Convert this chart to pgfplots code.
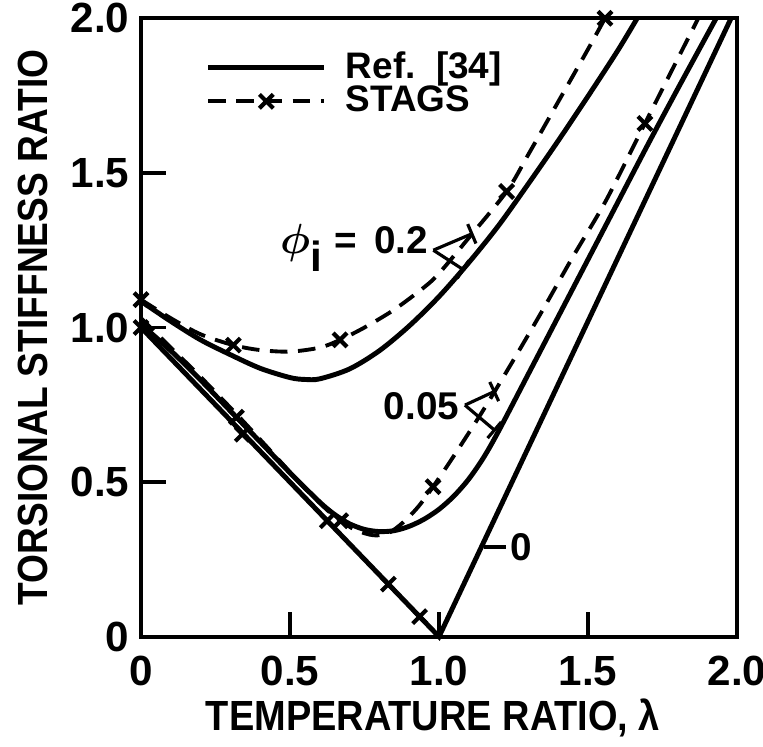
\documentclass[border=0pt]{standalone}
\usepackage{pgfplots}
\pgfplotsset{compat=1.18}
\usetikzlibrary{arrows.meta}
\usepackage{fontspec}
\setmainfont{Liberation Sans}

% Ref. [34] curves
\pgfplotstableread{
x     y
0     1.085
0.1   1.02
0.2   0.96
0.3   0.912
0.4   0.868
0.5   0.838
0.55  0.832
0.6   0.834
0.7   0.866
0.8   0.925
0.9   1.005
1.0   1.10
1.1   1.21
1.2   1.33
1.3   1.465
1.4   1.604
1.5   1.748
1.6   1.896
1.665 2.0
}\refa
\pgfplotstableread{
x     y
0     1.01
0.1   0.925
0.2   0.83
0.3   0.73
0.4   0.63
0.5   0.53
0.6   0.435
0.65  0.395
0.7   0.365
0.75  0.347
0.8   0.34
0.85  0.343
0.9   0.357
0.95  0.38
1.0   0.412
1.05  0.455
1.1   0.51
1.15  0.58
1.2   0.665
1.3   0.85
1.4   1.035
1.5   1.22
1.6   1.405
1.7   1.59
1.8   1.77
1.93  2.0
}\refb
% STAGS curves
\pgfplotstableread{
x     y
0     1.09
0.1   1.03
0.2   0.978
0.31  0.943
0.4   0.927
0.5   0.922
0.6   0.935
0.668 0.96
0.75  1.0
0.85  1.058
0.95  1.13
1.0   1.175
1.1   1.29
1.227 1.44
1.3   1.56
1.4   1.73
1.5   1.90
1.557 2.0
}\stagsa
\pgfplotstableread{
x     y
0     1.03
0.1   0.935
0.2   0.84
0.33  0.71
0.45  0.585
0.55  0.48
0.63  0.405
0.67  0.375
0.72  0.345
0.78  0.328
0.83  0.335
0.88  0.37
0.93  0.42
0.98  0.485
1.05  0.585
1.15  0.735
1.25  0.895
1.35  1.06
1.45  1.23
1.56  1.41
1.691 1.66
1.87  2.0
}\stagsb

\begin{document}
\bfseries\fontsize{11}{13}\selectfont
\begin{tikzpicture}
\begin{axis}[
    scale only axis,
    width=5.96cm, height=6.184cm,
    xmin=0, xmax=2, ymin=0, ymax=2,
    clip=false,
    axis line style={line width=1.1pt},
    tick align=inside, tick pos=left,
    major tick length=0.25cm,
    tick style={line width=1pt, black},
    tick label style={font=\bfseries\fontsize{12}{14}\selectfont},
    xtick={0,0.5,1,1.5,2}, xticklabels={0,0.5,1.0,1.5,2.0},
    ytick={0,0.5,1,1.5,2}, yticklabels={0,0.5,1.0,1.5,2.0},
    xticklabel style={yshift=-0.06cm},
    yticklabel style={xshift=0.02cm},
    xlabel={\scalebox{0.9}[1]{TEMPERATURE RATIO, λ}},
    ylabel={\scalebox{0.88}[1]{TORSIONAL STIFFNESS RATIO}},
    every axis x label/.style={at={(axis description cs:0.49,0)}, anchor=center, yshift=-0.81cm,
        font=\bfseries\fontsize{12}{14}\selectfont},
    every axis y label/.style={at={(axis description cs:0,0.5)}, anchor=center, xshift=-1.08cm, rotate=90,
        font=\bfseries\fontsize{12}{14}\selectfont},
    legend style={draw=none, fill=none, at={(axis description cs:0.09,0.97)}, anchor=north west,
        cells={anchor=west}, row sep=-3.6pt, font=\bfseries\fontsize{10.5}{12}\selectfont},
    legend image code/.code={\draw[mark repeat=2,mark phase=2,#1] plot coordinates {(0cm,0cm) (0.58cm,0cm) (1.16cm,0cm)};},
    refline/.style={black, line width=1.4pt, smooth},
    stagsline/.style={black, line width=1.1pt, dash pattern=on 5pt off 3pt, smooth},
    stagsmark/.style={black, only marks, mark=x, mark size=2.8pt, mark options={solid, line width=1.2pt}},
]
\addlegendimage{black, line width=1.4pt}
\addlegendentry{\hspace{0.12cm}Ref.\ \ [34]}
\addlegendimage{black, line width=1.1pt, dash pattern=on 5pt off 3pt, mark=x, mark size=2.8pt, mark options={solid, line width=1.2pt}}
\addlegendentry{\hspace{0.12cm}STAGS}

% phi_i = 0
\addplot[black, line width=1.4pt, forget plot] coordinates {(0,1.0) (1.0,0) (1.98,2.0)};
\addplot[stagsmark, forget plot] coordinates {(0,1.0) (0.34,0.655) (0.625,0.375) (0.83,0.17) (0.935,0.065)};
% phi_i = 0.05
\addplot[refline, forget plot] table {\refb};
\addplot[stagsline, forget plot] table {\stagsb};
\addplot[stagsmark, forget plot] coordinates {(0.32,0.71) (0.67,0.375) (0.98,0.485) (1.691,1.66)};
% phi_i = 0.2
\addplot[refline, forget plot] table {\refa};
\addplot[stagsline, forget plot] table {\stagsa};
\addplot[stagsmark, forget plot] coordinates {(0,1.09) (0.31,0.943) (0.668,0.96) (1.227,1.44) (1.557,2.0)};

% curve labels
\node[anchor=east, inner sep=0pt] at (axis cs:0.965,1.258) {{\fontsize{13}{13}\selectfont\boldmath$\phi$}\textsubscript{\fontsize{12}{12}\selectfont i}\ = \,0.2};
\draw[line width=0.9pt, -{Bar[width=6pt]}] (axis cs:0.981,1.25) -- (axis cs:1.115,1.305);
\draw[line width=0.9pt, -{Bar[width=6pt]}] (axis cs:0.981,1.25) -- (axis cs:1.085,1.185);
\node[anchor=east, inner sep=0pt] at (axis cs:1.07,0.746) {0.05};
\draw[line width=0.9pt, -{Bar[width=6pt]}] (axis cs:1.087,0.749) -- (axis cs:1.19,0.795);
\draw[line width=0.9pt, -{Bar[width=6pt]}] (axis cs:1.087,0.749) -- (axis cs:1.19,0.665);
\draw[line width=0.9pt] (axis cs:1.15,0.29) -- (axis cs:1.225,0.29);
\node[anchor=west, inner sep=1pt] at (axis cs:1.225,0.29) {0};
\end{axis}
\pgfresetboundingbox
\path ([shift={(-1.41cm,-1.10cm)}]current axis.south west) rectangle ([shift={(0.26cm,0.183cm)}]current axis.north east);
\end{tikzpicture}
\end{document}
